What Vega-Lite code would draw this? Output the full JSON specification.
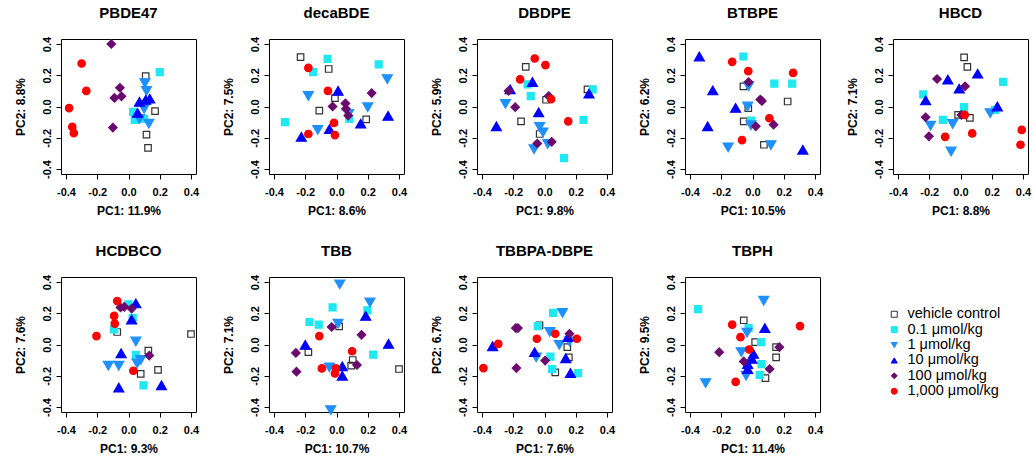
{
"$schema": "https://vega.github.io/schema/vega-lite/v6.json",
"background": "white",
"padding": {"left": 13, "top": 5, "right": 5, "bottom": 3},
"datasets": {"pts": [
{"p":"PBDE47","g":"vehicle control","x":0.11,"y":0.195},{"p":"PBDE47","g":"vehicle control","x":0.17,"y":-0.03},{"p":"PBDE47","g":"vehicle control","x":0.115,"y":-0.18},{"p":"PBDE47","g":"vehicle control","x":0.125,"y":-0.265},
{"p":"PBDE47","g":"0.1 μmol/kg","x":0.20,"y":0.22},{"p":"PBDE47","g":"0.1 μmol/kg","x":0.03,"y":-0.035},{"p":"PBDE47","g":"0.1 μmol/kg","x":0.04,"y":-0.085},{"p":"PBDE47","g":"0.1 μmol/kg","x":0.10,"y":-0.08},
{"p":"PBDE47","g":"1 μmol/kg","x":0.105,"y":0.15},{"p":"PBDE47","g":"1 μmol/kg","x":0.115,"y":0.10},{"p":"PBDE47","g":"1 μmol/kg","x":0.10,"y":-0.015},{"p":"PBDE47","g":"1 μmol/kg","x":0.07,"y":-0.08},{"p":"PBDE47","g":"1 μmol/kg","x":0.13,"y":-0.11},
{"p":"PBDE47","g":"10 μmol/kg","x":0.07,"y":0.03},{"p":"PBDE47","g":"10 μmol/kg","x":0.11,"y":0.043},{"p":"PBDE47","g":"10 μmol/kg","x":0.136,"y":0.05},{"p":"PBDE47","g":"10 μmol/kg","x":0.058,"y":-0.041},
{"p":"PBDE47","g":"100 μmol/kg","x":-0.11,"y":0.40},{"p":"PBDE47","g":"100 μmol/kg","x":-0.055,"y":0.12},{"p":"PBDE47","g":"100 μmol/kg","x":-0.09,"y":0.055},{"p":"PBDE47","g":"100 μmol/kg","x":-0.045,"y":0.065},{"p":"PBDE47","g":"100 μmol/kg","x":-0.10,"y":-0.135},
{"p":"PBDE47","g":"1,000 μmol/kg","x":-0.30,"y":0.275},{"p":"PBDE47","g":"1,000 μmol/kg","x":-0.27,"y":0.10},{"p":"PBDE47","g":"1,000 μmol/kg","x":-0.38,"y":-0.01},{"p":"PBDE47","g":"1,000 μmol/kg","x":-0.36,"y":-0.13},{"p":"PBDE47","g":"1,000 μmol/kg","x":-0.35,"y":-0.17},

{"p":"decaBDE","g":"vehicle control","x":-0.23,"y":0.316},{"p":"decaBDE","g":"vehicle control","x":-0.05,"y":0.24},{"p":"decaBDE","g":"vehicle control","x":-0.01,"y":0.054},{"p":"decaBDE","g":"vehicle control","x":-0.11,"y":-0.026},{"p":"decaBDE","g":"vehicle control","x":0.19,"y":-0.082},
{"p":"decaBDE","g":"0.1 μmol/kg","x":-0.057,"y":0.305},{"p":"decaBDE","g":"0.1 μmol/kg","x":-0.15,"y":0.22},{"p":"decaBDE","g":"0.1 μmol/kg","x":0.27,"y":0.27},{"p":"decaBDE","g":"0.1 μmol/kg","x":-0.33,"y":-0.10},{"p":"decaBDE","g":"0.1 μmol/kg","x":0.082,"y":-0.08},
{"p":"decaBDE","g":"1 μmol/kg","x":0.325,"y":0.175},{"p":"decaBDE","g":"1 μmol/kg","x":-0.18,"y":0.067},{"p":"decaBDE","g":"1 μmol/kg","x":0.20,"y":-0.005},{"p":"decaBDE","g":"1 μmol/kg","x":0.078,"y":-0.047},{"p":"decaBDE","g":"1 μmol/kg","x":-0.12,"y":-0.15},
{"p":"decaBDE","g":"10 μmol/kg","x":0.01,"y":0.10},{"p":"decaBDE","g":"10 μmol/kg","x":0.33,"y":-0.06},{"p":"decaBDE","g":"10 μmol/kg","x":0.155,"y":-0.11},{"p":"decaBDE","g":"10 μmol/kg","x":-0.045,"y":-0.145},{"p":"decaBDE","g":"10 μmol/kg","x":-0.225,"y":-0.194},
{"p":"decaBDE","g":"100 μmol/kg","x":0.225,"y":0.086},{"p":"decaBDE","g":"100 μmol/kg","x":0.057,"y":0.02},{"p":"decaBDE","g":"100 μmol/kg","x":-0.025,"y":0.0},{"p":"decaBDE","g":"100 μmol/kg","x":0.06,"y":-0.015},{"p":"decaBDE","g":"100 μmol/kg","x":0.075,"y":-0.058},
{"p":"decaBDE","g":"1,000 μmol/kg","x":-0.18,"y":0.247},{"p":"decaBDE","g":"1,000 μmol/kg","x":-0.055,"y":0.10},{"p":"decaBDE","g":"1,000 μmol/kg","x":-0.016,"y":-0.105},{"p":"decaBDE","g":"1,000 μmol/kg","x":-0.18,"y":-0.176},{"p":"decaBDE","g":"1,000 μmol/kg","x":-0.01,"y":-0.183},

{"p":"DBDPE","g":"vehicle control","x":-0.12,"y":0.254},{"p":"DBDPE","g":"vehicle control","x":0.01,"y":0.043},{"p":"DBDPE","g":"vehicle control","x":0.275,"y":0.11},{"p":"DBDPE","g":"vehicle control","x":-0.15,"y":-0.095},{"p":"DBDPE","g":"vehicle control","x":-0.031,"y":-0.176},
{"p":"DBDPE","g":"0.1 μmol/kg","x":-0.108,"y":0.142},{"p":"DBDPE","g":"0.1 μmol/kg","x":-0.088,"y":0.067},{"p":"DBDPE","g":"0.1 μmol/kg","x":0.308,"y":0.11},{"p":"DBDPE","g":"0.1 μmol/kg","x":0.25,"y":-0.086},{"p":"DBDPE","g":"0.1 μmol/kg","x":0.125,"y":-0.33},
{"p":"DBDPE","g":"1 μmol/kg","x":-0.25,"y":0.017},{"p":"DBDPE","g":"1 μmol/kg","x":-0.031,"y":-0.13},{"p":"DBDPE","g":"1 μmol/kg","x":-0.01,"y":-0.166},{"p":"DBDPE","g":"1 μmol/kg","x":0.021,"y":-0.24},{"p":"DBDPE","g":"1 μmol/kg","x":-0.067,"y":-0.273},
{"p":"DBDPE","g":"10 μmol/kg","x":-0.077,"y":0.157},{"p":"DBDPE","g":"10 μmol/kg","x":-0.22,"y":0.11},{"p":"DBDPE","g":"10 μmol/kg","x":0.285,"y":0.082},{"p":"DBDPE","g":"10 μmol/kg","x":-0.0375,"y":-0.037},{"p":"DBDPE","g":"10 μmol/kg","x":-0.308,"y":-0.127},
{"p":"DBDPE","g":"100 μmol/kg","x":-0.23,"y":0.10},{"p":"DBDPE","g":"100 μmol/kg","x":0.027,"y":0.067},{"p":"DBDPE","g":"100 μmol/kg","x":-0.1875,"y":-0.004},{"p":"DBDPE","g":"100 μmol/kg","x":-0.046,"y":-0.237},{"p":"DBDPE","g":"100 μmol/kg","x":0.046,"y":-0.226},
{"p":"DBDPE","g":"1,000 μmol/kg","x":-0.0625,"y":0.307},{"p":"DBDPE","g":"1,000 μmol/kg","x":0.006,"y":0.265},{"p":"DBDPE","g":"1,000 μmol/kg","x":-0.156,"y":0.174},{"p":"DBDPE","g":"1,000 μmol/kg","x":0.042,"y":0.047},{"p":"DBDPE","g":"1,000 μmol/kg","x":0.152,"y":-0.095},

{"p":"BTBPE","g":"vehicle control","x":-0.058,"y":0.129},{"p":"BTBPE","g":"vehicle control","x":0.225,"y":0.032},{"p":"BTBPE","g":"vehicle control","x":-0.027,"y":-0.011},{"p":"BTBPE","g":"vehicle control","x":-0.056,"y":-0.095},{"p":"BTBPE","g":"vehicle control","x":0.073,"y":-0.245},
{"p":"BTBPE","g":"0.1 μmol/kg","x":-0.058,"y":0.32},{"p":"BTBPE","g":"0.1 μmol/kg","x":0.14,"y":0.146},{"p":"BTBPE","g":"0.1 μmol/kg","x":0.254,"y":0.146},{"p":"BTBPE","g":"0.1 μmol/kg","x":-0.01,"y":-0.09},
{"p":"BTBPE","g":"1 μmol/kg","x":-0.025,"y":0.129},{"p":"BTBPE","g":"1 μmol/kg","x":-0.031,"y":0.0},{"p":"BTBPE","g":"1 μmol/kg","x":-0.01,"y":-0.12},{"p":"BTBPE","g":"1 μmol/kg","x":0.118,"y":-0.247},{"p":"BTBPE","g":"1 μmol/kg","x":-0.156,"y":-0.262},
{"p":"BTBPE","g":"10 μmol/kg","x":-0.34,"y":0.32},{"p":"BTBPE","g":"10 μmol/kg","x":-0.254,"y":0.103},{"p":"BTBPE","g":"10 μmol/kg","x":-0.108,"y":-0.009},{"p":"BTBPE","g":"10 μmol/kg","x":-0.287,"y":-0.127},{"p":"BTBPE","g":"10 μmol/kg","x":0.322,"y":-0.277},
{"p":"BTBPE","g":"100 μmol/kg","x":-0.025,"y":0.157},{"p":"BTBPE","g":"100 μmol/kg","x":0.05,"y":0.045},{"p":"BTBPE","g":"100 μmol/kg","x":0.06,"y":0.035},{"p":"BTBPE","g":"100 μmol/kg","x":0.021,"y":-0.127},{"p":"BTBPE","g":"100 μmol/kg","x":0.135,"y":-0.116},
{"p":"BTBPE","g":"1,000 μmol/kg","x":-0.13,"y":0.286},{"p":"BTBPE","g":"1,000 μmol/kg","x":-0.027,"y":0.226},{"p":"BTBPE","g":"1,000 μmol/kg","x":0.26,"y":0.215},{"p":"BTBPE","g":"1,000 μmol/kg","x":0.108,"y":-0.075},{"p":"BTBPE","g":"1,000 μmol/kg","x":-0.067,"y":-0.215},

{"p":"HBCD","g":"vehicle control","x":0.023,"y":0.314},{"p":"HBCD","g":"vehicle control","x":0.044,"y":0.254},{"p":"HBCD","g":"vehicle control","x":-0.015,"y":-0.054},{"p":"HBCD","g":"vehicle control","x":0.06,"y":-0.073},
{"p":"HBCD","g":"0.1 μmol/kg","x":0.273,"y":0.157},{"p":"HBCD","g":"0.1 μmol/kg","x":-0.238,"y":0.077},{"p":"HBCD","g":"0.1 μmol/kg","x":0.023,"y":-0.004},{"p":"HBCD","g":"0.1 μmol/kg","x":0.22,"y":-0.022},{"p":"HBCD","g":"0.1 μmol/kg","x":-0.113,"y":-0.086},
{"p":"HBCD","g":"1 μmol/kg","x":0.19,"y":-0.043},{"p":"HBCD","g":"1 μmol/kg","x":-0.05,"y":-0.112},{"p":"HBCD","g":"1 μmol/kg","x":-0.192,"y":-0.123},{"p":"HBCD","g":"1 μmol/kg","x":-0.06,"y":-0.288},
{"p":"HBCD","g":"10 μmol/kg","x":0.11,"y":0.21},{"p":"HBCD","g":"10 μmol/kg","x":-0.081,"y":0.172},{"p":"HBCD","g":"10 μmol/kg","x":-0.008,"y":0.114},{"p":"HBCD","g":"10 μmol/kg","x":-0.223,"y":0.039},{"p":"HBCD","g":"10 μmol/kg","x":0.236,"y":0.0},
{"p":"HBCD","g":"100 μmol/kg","x":-0.15,"y":0.176},{"p":"HBCD","g":"100 μmol/kg","x":0.029,"y":0.129},{"p":"HBCD","g":"100 μmol/kg","x":0.006,"y":-0.054},{"p":"HBCD","g":"100 μmol/kg","x":-0.223,"y":-0.069},{"p":"HBCD","g":"100 μmol/kg","x":-0.202,"y":-0.191},
{"p":"HBCD","g":"1,000 μmol/kg","x":0.027,"y":-0.054},{"p":"HBCD","g":"1,000 μmol/kg","x":0.392,"y":-0.15},{"p":"HBCD","g":"1,000 μmol/kg","x":0.075,"y":-0.172},{"p":"HBCD","g":"1,000 μmol/kg","x":-0.098,"y":-0.194},{"p":"HBCD","g":"1,000 μmol/kg","x":0.384,"y":-0.245},

{"p":"HCDBCO","g":"vehicle control","x":-0.072,"y":0.08},{"p":"HCDBCO","g":"vehicle control","x":0.40,"y":0.067},{"p":"HCDBCO","g":"vehicle control","x":0.127,"y":-0.039},{"p":"HCDBCO","g":"vehicle control","x":0.078,"y":-0.188},{"p":"HCDBCO","g":"vehicle control","x":0.189,"y":-0.162},
{"p":"HCDBCO","g":"0.1 μmol/kg","x":0.0,"y":0.257},{"p":"HCDBCO","g":"0.1 μmol/kg","x":0.027,"y":0.17},{"p":"HCDBCO","g":"0.1 μmol/kg","x":-0.092,"y":0.097},{"p":"HCDBCO","g":"0.1 μmol/kg","x":0.047,"y":-0.067},{"p":"HCDBCO","g":"0.1 μmol/kg","x":0.096,"y":-0.261},
{"p":"HCDBCO","g":"1 μmol/kg","x":0.047,"y":0.019},{"p":"HCDBCO","g":"1 μmol/kg","x":0.078,"y":-0.099},{"p":"HCDBCO","g":"1 μmol/kg","x":0.055,"y":-0.121},{"p":"HCDBCO","g":"1 μmol/kg","x":-0.129,"y":-0.136},{"p":"HCDBCO","g":"1 μmol/kg","x":-0.062,"y":-0.136},
{"p":"HCDBCO","g":"10 μmol/kg","x":0.047,"y":0.263},{"p":"HCDBCO","g":"10 μmol/kg","x":0.02,"y":0.16},{"p":"HCDBCO","g":"10 μmol/kg","x":-0.047,"y":-0.056},{"p":"HCDBCO","g":"10 μmol/kg","x":-0.062,"y":-0.276},{"p":"HCDBCO","g":"10 μmol/kg","x":0.211,"y":-0.261},
{"p":"HCDBCO","g":"100 μmol/kg","x":-0.051,"y":0.237},{"p":"HCDBCO","g":"100 μmol/kg","x":-0.027,"y":0.241},{"p":"HCDBCO","g":"100 μmol/kg","x":0.02,"y":0.23},{"p":"HCDBCO","g":"100 μmol/kg","x":0.133,"y":-0.071},
{"p":"HCDBCO","g":"1,000 μmol/kg","x":-0.072,"y":0.278},{"p":"HCDBCO","g":"1,000 μmol/kg","x":-0.092,"y":0.183},{"p":"HCDBCO","g":"1,000 μmol/kg","x":-0.088,"y":0.134},{"p":"HCDBCO","g":"1,000 μmol/kg","x":-0.205,"y":0.054},{"p":"HCDBCO","g":"1,000 μmol/kg","x":0.031,"y":-0.168},

{"p":"TBB","g":"vehicle control","x":0.017,"y":0.116},{"p":"TBB","g":"vehicle control","x":-0.18,"y":-0.049},{"p":"TBB","g":"vehicle control","x":0.104,"y":-0.099},{"p":"TBB","g":"vehicle control","x":0.094,"y":-0.135},{"p":"TBB","g":"vehicle control","x":0.40,"y":-0.157},
{"p":"TBB","g":"0.1 μmol/kg","x":-0.025,"y":0.237},{"p":"TBB","g":"0.1 μmol/kg","x":0.198,"y":0.219},{"p":"TBB","g":"0.1 μmol/kg","x":-0.173,"y":0.144},{"p":"TBB","g":"0.1 μmol/kg","x":-0.114,"y":0.127},{"p":"TBB","g":"0.1 μmol/kg","x":0.235,"y":-0.065},
{"p":"TBB","g":"1 μmol/kg","x":0.021,"y":0.385},{"p":"TBB","g":"1 μmol/kg","x":0.214,"y":0.269},{"p":"TBB","g":"1 μmol/kg","x":0.01,"y":0.133},{"p":"TBB","g":"1 μmol/kg","x":-0.046,"y":-0.146},{"p":"TBB","g":"1 μmol/kg","x":-0.037,"y":-0.42},
{"p":"TBB","g":"10 μmol/kg","x":0.187,"y":0.183},{"p":"TBB","g":"10 μmol/kg","x":-0.2,"y":-0.002},{"p":"TBB","g":"10 μmol/kg","x":0.333,"y":0.004},{"p":"TBB","g":"10 μmol/kg","x":0.037,"y":-0.14},{"p":"TBB","g":"10 μmol/kg","x":0.037,"y":-0.2},
{"p":"TBB","g":"100 μmol/kg","x":-0.031,"y":0.112},{"p":"TBB","g":"100 μmol/kg","x":0.16,"y":0.062},{"p":"TBB","g":"100 μmol/kg","x":-0.26,"y":-0.054},{"p":"TBB","g":"100 μmol/kg","x":0.131,"y":-0.131},{"p":"TBB","g":"100 μmol/kg","x":-0.256,"y":-0.174},
{"p":"TBB","g":"1,000 μmol/kg","x":-0.11,"y":0.054},{"p":"TBB","g":"1,000 μmol/kg","x":0.10,"y":-0.043},{"p":"TBB","g":"1,000 μmol/kg","x":-0.094,"y":-0.153},{"p":"TBB","g":"1,000 μmol/kg","x":-0.004,"y":-0.153},{"p":"TBB","g":"1,000 μmol/kg","x":-0.01,"y":-0.185},

{"p":"TBBPA-DBPE","g":"vehicle control","x":-0.032,"y":0.123},{"p":"TBBPA-DBPE","g":"vehicle control","x":0.146,"y":-0.017},{"p":"TBBPA-DBPE","g":"vehicle control","x":0.156,"y":-0.082},{"p":"TBBPA-DBPE","g":"vehicle control","x":0.069,"y":-0.178},
{"p":"TBBPA-DBPE","g":"0.1 μmol/kg","x":0.055,"y":0.202},{"p":"TBBPA-DBPE","g":"0.1 μmol/kg","x":-0.043,"y":0.118},{"p":"TBBPA-DBPE","g":"0.1 μmol/kg","x":0.038,"y":-0.077},{"p":"TBBPA-DBPE","g":"0.1 μmol/kg","x":0.049,"y":-0.157},{"p":"TBBPA-DBPE","g":"0.1 μmol/kg","x":0.215,"y":-0.183},
{"p":"TBBPA-DBPE","g":"1 μmol/kg","x":0.115,"y":0.202},{"p":"TBBPA-DBPE","g":"1 μmol/kg","x":0.034,"y":0.08},{"p":"TBBPA-DBPE","g":"1 μmol/kg","x":0.16,"y":0.019},{"p":"TBBPA-DBPE","g":"1 μmol/kg","x":0.095,"y":-0.002},{"p":"TBBPA-DBPE","g":"1 μmol/kg","x":-0.053,"y":-0.082},
{"p":"TBBPA-DBPE","g":"10 μmol/kg","x":0.15,"y":0.047},{"p":"TBBPA-DBPE","g":"10 μmol/kg","x":-0.332,"y":-0.011},{"p":"TBBPA-DBPE","g":"10 μmol/kg","x":-0.063,"y":-0.049},{"p":"TBBPA-DBPE","g":"10 μmol/kg","x":0.136,"y":-0.088},{"p":"TBBPA-DBPE","g":"10 μmol/kg","x":0.166,"y":-0.183},
{"p":"TBBPA-DBPE","g":"100 μmol/kg","x":-0.184,"y":0.105},{"p":"TBBPA-DBPE","g":"100 μmol/kg","x":-0.17,"y":0.105},{"p":"TBBPA-DBPE","g":"100 μmol/kg","x":0.16,"y":0.069},{"p":"TBBPA-DBPE","g":"100 μmol/kg","x":0.004,"y":-0.103},{"p":"TBBPA-DBPE","g":"100 μmol/kg","x":-0.18,"y":-0.151},
{"p":"TBBPA-DBPE","g":"1,000 μmol/kg","x":0.069,"y":0.069},{"p":"TBBPA-DBPE","g":"1,000 μmol/kg","x":-0.049,"y":0.037},{"p":"TBBPA-DBPE","g":"1,000 μmol/kg","x":0.207,"y":0.037},{"p":"TBBPA-DBPE","g":"1,000 μmol/kg","x":-0.296,"y":0.004},{"p":"TBBPA-DBPE","g":"1,000 μmol/kg","x":-0.391,"y":-0.151},

{"p":"TBPH","g":"vehicle control","x":-0.056,"y":0.155},{"p":"TBPH","g":"vehicle control","x":0.017,"y":0.015},{"p":"TBPH","g":"vehicle control","x":0.151,"y":-0.017},{"p":"TBPH","g":"vehicle control","x":0.151,"y":-0.082},{"p":"TBPH","g":"vehicle control","x":0.083,"y":-0.215},
{"p":"TBPH","g":"0.1 μmol/kg","x":-0.348,"y":0.226},{"p":"TBPH","g":"0.1 μmol/kg","x":-0.025,"y":0.105},{"p":"TBPH","g":"0.1 μmol/kg","x":0.056,"y":0.015},{"p":"TBPH","g":"0.1 μmol/kg","x":0.058,"y":-0.125},{"p":"TBPH","g":"0.1 μmol/kg","x":0.046,"y":-0.194},
{"p":"TBPH","g":"1 μmol/kg","x":0.072,"y":0.28},{"p":"TBPH","g":"1 μmol/kg","x":-0.035,"y":0.075},{"p":"TBPH","g":"1 μmol/kg","x":-0.072,"y":-0.049},{"p":"TBPH","g":"1 μmol/kg","x":-0.041,"y":-0.2},{"p":"TBPH","g":"1 μmol/kg","x":-0.3,"y":-0.247},
{"p":"TBPH","g":"10 μmol/kg","x":0.079,"y":0.105},{"p":"TBPH","g":"10 μmol/kg","x":0.006,"y":-0.06},{"p":"TBPH","g":"10 μmol/kg","x":-0.004,"y":-0.092},{"p":"TBPH","g":"10 μmol/kg","x":-0.031,"y":-0.125},{"p":"TBPH","g":"10 μmol/kg","x":-0.031,"y":-0.157},
{"p":"TBPH","g":"100 μmol/kg","x":0.172,"y":-0.017},{"p":"TBPH","g":"100 μmol/kg","x":-0.213,"y":-0.049},{"p":"TBPH","g":"100 μmol/kg","x":-0.056,"y":-0.108},{"p":"TBPH","g":"100 μmol/kg","x":0.11,"y":-0.157},
{"p":"TBPH","g":"1,000 μmol/kg","x":-0.13,"y":0.127},{"p":"TBPH","g":"1,000 μmol/kg","x":0.304,"y":0.118},{"p":"TBPH","g":"1,000 μmol/kg","x":-0.077,"y":0.047},{"p":"TBPH","g":"1,000 μmol/kg","x":-0.021,"y":-0.032},{"p":"TBPH","g":"1,000 μmol/kg","x":-0.108,"y":-0.239}
]},
"data": {"name": "pts"},
"columns": 5,
"spacing": {"row": 103, "column": 73},
"bounds": "flush",
"concat": [
{"title":"PBDE47","width":135,"height":135,"transform":[{"filter":"datum.p === 'PBDE47'"}],"mark":{"type":"point","filled":true,"opacity":1,"strokeWidth":1.2},
"encoding":{"x":{"field":"x","type":"quantitative","scale":{"domain":[-0.432,0.432],"nice":false,"zero":false},"axis":{"title":"PC1: 11.9%","values":[-0.4,-0.2,0,0.2,0.4],"labelExpr":"datum.value < 0 ? '-' + format(-datum.value, '.1f') : format(datum.value, '.1f')"}},
"y":{"field":"y","type":"quantitative","scale":{"domain":[-0.432,0.432],"nice":false,"zero":false},"axis":{"title":"PC2: 8.8%","values":[-0.4,-0.2,0,0.2,0.4],"labelExpr":"datum.value < 0 ? '-' + format(-datum.value, '.1f') : format(datum.value, '.1f')"}},
"shape":{"field":"g","type":"nominal","scale":{"domain":["vehicle control","0.1 μmol/kg","1 μmol/kg","10 μmol/kg","100 μmol/kg","1,000 μmol/kg"],"range":["square","square","triangle-down","triangle-up","diamond","circle"]},"legend":{"title":null,"orient":"none","legendX":826,"legendY":268}},
"fill":{"field":"g","type":"nominal","scale":{"domain":["vehicle control","0.1 μmol/kg","1 μmol/kg","10 μmol/kg","100 μmol/kg","1,000 μmol/kg"],"range":["transparent","#1EE8F0","#1E90FF","#0000FF","#6A0A6E","#FF0000"]},"legend":{"title":null,"orient":"none","legendX":826,"legendY":268}},
"stroke":{"field":"g","type":"nominal","scale":{"domain":["vehicle control","0.1 μmol/kg","1 μmol/kg","10 μmol/kg","100 μmol/kg","1,000 μmol/kg"],"range":["#333333","#1EE8F0","#1E90FF","#0000FF","#6A0A6E","#FF0000"]},"legend":{"title":null,"orient":"none","legendX":826,"legendY":268}},
"size":{"field":"g","type":"nominal","scale":{"type":"ordinal","domain":["1 μmol/kg","10 μmol/kg","100 μmol/kg","1,000 μmol/kg","vehicle control","0.1 μmol/kg"],"range":[100,100,72,56,42,49]},"legend":null}}},
{"title":"decaBDE","width":135,"height":135,"transform":[{"filter":"datum.p === 'decaBDE'"}],"mark":{"type":"point","filled":true,"opacity":1,"strokeWidth":1.2},
"encoding":{"x":{"field":"x","type":"quantitative","scale":{"domain":[-0.432,0.432],"nice":false,"zero":false},"axis":{"title":"PC1: 8.6%","values":[-0.4,-0.2,0,0.2,0.4],"labelExpr":"datum.value < 0 ? '-' + format(-datum.value, '.1f') : format(datum.value, '.1f')"}},
"y":{"field":"y","type":"quantitative","scale":{"domain":[-0.432,0.432],"nice":false,"zero":false},"axis":{"title":"PC2: 7.5%","values":[-0.4,-0.2,0,0.2,0.4],"labelExpr":"datum.value < 0 ? '-' + format(-datum.value, '.1f') : format(datum.value, '.1f')"}},
"shape":{"field":"g","type":"nominal","scale":{"domain":["vehicle control","0.1 μmol/kg","1 μmol/kg","10 μmol/kg","100 μmol/kg","1,000 μmol/kg"],"range":["square","square","triangle-down","triangle-up","diamond","circle"]},"legend":{"title":null,"orient":"none","legendX":826,"legendY":268}},
"fill":{"field":"g","type":"nominal","scale":{"domain":["vehicle control","0.1 μmol/kg","1 μmol/kg","10 μmol/kg","100 μmol/kg","1,000 μmol/kg"],"range":["transparent","#1EE8F0","#1E90FF","#0000FF","#6A0A6E","#FF0000"]},"legend":{"title":null,"orient":"none","legendX":826,"legendY":268}},
"stroke":{"field":"g","type":"nominal","scale":{"domain":["vehicle control","0.1 μmol/kg","1 μmol/kg","10 μmol/kg","100 μmol/kg","1,000 μmol/kg"],"range":["#333333","#1EE8F0","#1E90FF","#0000FF","#6A0A6E","#FF0000"]},"legend":{"title":null,"orient":"none","legendX":826,"legendY":268}},
"size":{"field":"g","type":"nominal","scale":{"type":"ordinal","domain":["1 μmol/kg","10 μmol/kg","100 μmol/kg","1,000 μmol/kg","vehicle control","0.1 μmol/kg"],"range":[100,100,72,56,42,49]},"legend":null}}},
{"title":"DBDPE","width":135,"height":135,"transform":[{"filter":"datum.p === 'DBDPE'"}],"mark":{"type":"point","filled":true,"opacity":1,"strokeWidth":1.2},
"encoding":{"x":{"field":"x","type":"quantitative","scale":{"domain":[-0.432,0.432],"nice":false,"zero":false},"axis":{"title":"PC1: 9.8%","values":[-0.4,-0.2,0,0.2,0.4],"labelExpr":"datum.value < 0 ? '-' + format(-datum.value, '.1f') : format(datum.value, '.1f')"}},
"y":{"field":"y","type":"quantitative","scale":{"domain":[-0.432,0.432],"nice":false,"zero":false},"axis":{"title":"PC2: 5.9%","values":[-0.4,-0.2,0,0.2,0.4],"labelExpr":"datum.value < 0 ? '-' + format(-datum.value, '.1f') : format(datum.value, '.1f')"}},
"shape":{"field":"g","type":"nominal","scale":{"domain":["vehicle control","0.1 μmol/kg","1 μmol/kg","10 μmol/kg","100 μmol/kg","1,000 μmol/kg"],"range":["square","square","triangle-down","triangle-up","diamond","circle"]},"legend":{"title":null,"orient":"none","legendX":826,"legendY":268}},
"fill":{"field":"g","type":"nominal","scale":{"domain":["vehicle control","0.1 μmol/kg","1 μmol/kg","10 μmol/kg","100 μmol/kg","1,000 μmol/kg"],"range":["transparent","#1EE8F0","#1E90FF","#0000FF","#6A0A6E","#FF0000"]},"legend":{"title":null,"orient":"none","legendX":826,"legendY":268}},
"stroke":{"field":"g","type":"nominal","scale":{"domain":["vehicle control","0.1 μmol/kg","1 μmol/kg","10 μmol/kg","100 μmol/kg","1,000 μmol/kg"],"range":["#333333","#1EE8F0","#1E90FF","#0000FF","#6A0A6E","#FF0000"]},"legend":{"title":null,"orient":"none","legendX":826,"legendY":268}},
"size":{"field":"g","type":"nominal","scale":{"type":"ordinal","domain":["1 μmol/kg","10 μmol/kg","100 μmol/kg","1,000 μmol/kg","vehicle control","0.1 μmol/kg"],"range":[100,100,72,56,42,49]},"legend":null}}},
{"title":"BTBPE","width":135,"height":135,"transform":[{"filter":"datum.p === 'BTBPE'"}],"mark":{"type":"point","filled":true,"opacity":1,"strokeWidth":1.2},
"encoding":{"x":{"field":"x","type":"quantitative","scale":{"domain":[-0.432,0.432],"nice":false,"zero":false},"axis":{"title":"PC1: 10.5%","values":[-0.4,-0.2,0,0.2,0.4],"labelExpr":"datum.value < 0 ? '-' + format(-datum.value, '.1f') : format(datum.value, '.1f')"}},
"y":{"field":"y","type":"quantitative","scale":{"domain":[-0.432,0.432],"nice":false,"zero":false},"axis":{"title":"PC2: 6.2%","values":[-0.4,-0.2,0,0.2,0.4],"labelExpr":"datum.value < 0 ? '-' + format(-datum.value, '.1f') : format(datum.value, '.1f')"}},
"shape":{"field":"g","type":"nominal","scale":{"domain":["vehicle control","0.1 μmol/kg","1 μmol/kg","10 μmol/kg","100 μmol/kg","1,000 μmol/kg"],"range":["square","square","triangle-down","triangle-up","diamond","circle"]},"legend":{"title":null,"orient":"none","legendX":826,"legendY":268}},
"fill":{"field":"g","type":"nominal","scale":{"domain":["vehicle control","0.1 μmol/kg","1 μmol/kg","10 μmol/kg","100 μmol/kg","1,000 μmol/kg"],"range":["transparent","#1EE8F0","#1E90FF","#0000FF","#6A0A6E","#FF0000"]},"legend":{"title":null,"orient":"none","legendX":826,"legendY":268}},
"stroke":{"field":"g","type":"nominal","scale":{"domain":["vehicle control","0.1 μmol/kg","1 μmol/kg","10 μmol/kg","100 μmol/kg","1,000 μmol/kg"],"range":["#333333","#1EE8F0","#1E90FF","#0000FF","#6A0A6E","#FF0000"]},"legend":{"title":null,"orient":"none","legendX":826,"legendY":268}},
"size":{"field":"g","type":"nominal","scale":{"type":"ordinal","domain":["1 μmol/kg","10 μmol/kg","100 μmol/kg","1,000 μmol/kg","vehicle control","0.1 μmol/kg"],"range":[100,100,72,56,42,49]},"legend":null}}},
{"title":"HBCD","width":135,"height":135,"transform":[{"filter":"datum.p === 'HBCD'"}],"mark":{"type":"point","filled":true,"opacity":1,"strokeWidth":1.2},
"encoding":{"x":{"field":"x","type":"quantitative","scale":{"domain":[-0.432,0.432],"nice":false,"zero":false},"axis":{"title":"PC1: 8.8%","values":[-0.4,-0.2,0,0.2,0.4],"labelExpr":"datum.value < 0 ? '-' + format(-datum.value, '.1f') : format(datum.value, '.1f')"}},
"y":{"field":"y","type":"quantitative","scale":{"domain":[-0.432,0.432],"nice":false,"zero":false},"axis":{"title":"PC2: 7.1%","values":[-0.4,-0.2,0,0.2,0.4],"labelExpr":"datum.value < 0 ? '-' + format(-datum.value, '.1f') : format(datum.value, '.1f')"}},
"shape":{"field":"g","type":"nominal","scale":{"domain":["vehicle control","0.1 μmol/kg","1 μmol/kg","10 μmol/kg","100 μmol/kg","1,000 μmol/kg"],"range":["square","square","triangle-down","triangle-up","diamond","circle"]},"legend":{"title":null,"orient":"none","legendX":826,"legendY":268}},
"fill":{"field":"g","type":"nominal","scale":{"domain":["vehicle control","0.1 μmol/kg","1 μmol/kg","10 μmol/kg","100 μmol/kg","1,000 μmol/kg"],"range":["transparent","#1EE8F0","#1E90FF","#0000FF","#6A0A6E","#FF0000"]},"legend":{"title":null,"orient":"none","legendX":826,"legendY":268}},
"stroke":{"field":"g","type":"nominal","scale":{"domain":["vehicle control","0.1 μmol/kg","1 μmol/kg","10 μmol/kg","100 μmol/kg","1,000 μmol/kg"],"range":["#333333","#1EE8F0","#1E90FF","#0000FF","#6A0A6E","#FF0000"]},"legend":{"title":null,"orient":"none","legendX":826,"legendY":268}},
"size":{"field":"g","type":"nominal","scale":{"type":"ordinal","domain":["1 μmol/kg","10 μmol/kg","100 μmol/kg","1,000 μmol/kg","vehicle control","0.1 μmol/kg"],"range":[100,100,72,56,42,49]},"legend":null}}},
{"title":"HCDBCO","width":135,"height":135,"transform":[{"filter":"datum.p === 'HCDBCO'"}],"mark":{"type":"point","filled":true,"opacity":1,"strokeWidth":1.2},
"encoding":{"x":{"field":"x","type":"quantitative","scale":{"domain":[-0.432,0.432],"nice":false,"zero":false},"axis":{"title":"PC1: 9.3%","values":[-0.4,-0.2,0,0.2,0.4],"labelExpr":"datum.value < 0 ? '-' + format(-datum.value, '.1f') : format(datum.value, '.1f')"}},
"y":{"field":"y","type":"quantitative","scale":{"domain":[-0.432,0.432],"nice":false,"zero":false},"axis":{"title":"PC2: 7.6%","values":[-0.4,-0.2,0,0.2,0.4],"labelExpr":"datum.value < 0 ? '-' + format(-datum.value, '.1f') : format(datum.value, '.1f')"}},
"shape":{"field":"g","type":"nominal","scale":{"domain":["vehicle control","0.1 μmol/kg","1 μmol/kg","10 μmol/kg","100 μmol/kg","1,000 μmol/kg"],"range":["square","square","triangle-down","triangle-up","diamond","circle"]},"legend":{"title":null,"orient":"none","legendX":826,"legendY":268}},
"fill":{"field":"g","type":"nominal","scale":{"domain":["vehicle control","0.1 μmol/kg","1 μmol/kg","10 μmol/kg","100 μmol/kg","1,000 μmol/kg"],"range":["transparent","#1EE8F0","#1E90FF","#0000FF","#6A0A6E","#FF0000"]},"legend":{"title":null,"orient":"none","legendX":826,"legendY":268}},
"stroke":{"field":"g","type":"nominal","scale":{"domain":["vehicle control","0.1 μmol/kg","1 μmol/kg","10 μmol/kg","100 μmol/kg","1,000 μmol/kg"],"range":["#333333","#1EE8F0","#1E90FF","#0000FF","#6A0A6E","#FF0000"]},"legend":{"title":null,"orient":"none","legendX":826,"legendY":268}},
"size":{"field":"g","type":"nominal","scale":{"type":"ordinal","domain":["1 μmol/kg","10 μmol/kg","100 μmol/kg","1,000 μmol/kg","vehicle control","0.1 μmol/kg"],"range":[100,100,72,56,42,49]},"legend":null}}},
{"title":"TBB","width":135,"height":135,"transform":[{"filter":"datum.p === 'TBB'"}],"mark":{"type":"point","filled":true,"opacity":1,"strokeWidth":1.2},
"encoding":{"x":{"field":"x","type":"quantitative","scale":{"domain":[-0.432,0.432],"nice":false,"zero":false},"axis":{"title":"PC1: 10.7%","values":[-0.4,-0.2,0,0.2,0.4],"labelExpr":"datum.value < 0 ? '-' + format(-datum.value, '.1f') : format(datum.value, '.1f')"}},
"y":{"field":"y","type":"quantitative","scale":{"domain":[-0.432,0.432],"nice":false,"zero":false},"axis":{"title":"PC2: 7.1%","values":[-0.4,-0.2,0,0.2,0.4],"labelExpr":"datum.value < 0 ? '-' + format(-datum.value, '.1f') : format(datum.value, '.1f')"}},
"shape":{"field":"g","type":"nominal","scale":{"domain":["vehicle control","0.1 μmol/kg","1 μmol/kg","10 μmol/kg","100 μmol/kg","1,000 μmol/kg"],"range":["square","square","triangle-down","triangle-up","diamond","circle"]},"legend":{"title":null,"orient":"none","legendX":826,"legendY":268}},
"fill":{"field":"g","type":"nominal","scale":{"domain":["vehicle control","0.1 μmol/kg","1 μmol/kg","10 μmol/kg","100 μmol/kg","1,000 μmol/kg"],"range":["transparent","#1EE8F0","#1E90FF","#0000FF","#6A0A6E","#FF0000"]},"legend":{"title":null,"orient":"none","legendX":826,"legendY":268}},
"stroke":{"field":"g","type":"nominal","scale":{"domain":["vehicle control","0.1 μmol/kg","1 μmol/kg","10 μmol/kg","100 μmol/kg","1,000 μmol/kg"],"range":["#333333","#1EE8F0","#1E90FF","#0000FF","#6A0A6E","#FF0000"]},"legend":{"title":null,"orient":"none","legendX":826,"legendY":268}},
"size":{"field":"g","type":"nominal","scale":{"type":"ordinal","domain":["1 μmol/kg","10 μmol/kg","100 μmol/kg","1,000 μmol/kg","vehicle control","0.1 μmol/kg"],"range":[100,100,72,56,42,49]},"legend":null}}},
{"title":"TBBPA-DBPE","width":135,"height":135,"transform":[{"filter":"datum.p === 'TBBPA-DBPE'"}],"mark":{"type":"point","filled":true,"opacity":1,"strokeWidth":1.2},
"encoding":{"x":{"field":"x","type":"quantitative","scale":{"domain":[-0.432,0.432],"nice":false,"zero":false},"axis":{"title":"PC1: 7.6%","values":[-0.4,-0.2,0,0.2,0.4],"labelExpr":"datum.value < 0 ? '-' + format(-datum.value, '.1f') : format(datum.value, '.1f')"}},
"y":{"field":"y","type":"quantitative","scale":{"domain":[-0.432,0.432],"nice":false,"zero":false},"axis":{"title":"PC2: 6.7%","values":[-0.4,-0.2,0,0.2,0.4],"labelExpr":"datum.value < 0 ? '-' + format(-datum.value, '.1f') : format(datum.value, '.1f')"}},
"shape":{"field":"g","type":"nominal","scale":{"domain":["vehicle control","0.1 μmol/kg","1 μmol/kg","10 μmol/kg","100 μmol/kg","1,000 μmol/kg"],"range":["square","square","triangle-down","triangle-up","diamond","circle"]},"legend":{"title":null,"orient":"none","legendX":826,"legendY":268}},
"fill":{"field":"g","type":"nominal","scale":{"domain":["vehicle control","0.1 μmol/kg","1 μmol/kg","10 μmol/kg","100 μmol/kg","1,000 μmol/kg"],"range":["transparent","#1EE8F0","#1E90FF","#0000FF","#6A0A6E","#FF0000"]},"legend":{"title":null,"orient":"none","legendX":826,"legendY":268}},
"stroke":{"field":"g","type":"nominal","scale":{"domain":["vehicle control","0.1 μmol/kg","1 μmol/kg","10 μmol/kg","100 μmol/kg","1,000 μmol/kg"],"range":["#333333","#1EE8F0","#1E90FF","#0000FF","#6A0A6E","#FF0000"]},"legend":{"title":null,"orient":"none","legendX":826,"legendY":268}},
"size":{"field":"g","type":"nominal","scale":{"type":"ordinal","domain":["1 μmol/kg","10 μmol/kg","100 μmol/kg","1,000 μmol/kg","vehicle control","0.1 μmol/kg"],"range":[100,100,72,56,42,49]},"legend":null}}},
{"title":"TBPH","width":135,"height":135,"transform":[{"filter":"datum.p === 'TBPH'"}],"mark":{"type":"point","filled":true,"opacity":1,"strokeWidth":1.2},
"encoding":{"x":{"field":"x","type":"quantitative","scale":{"domain":[-0.432,0.432],"nice":false,"zero":false},"axis":{"title":"PC1: 11.4%","values":[-0.4,-0.2,0,0.2,0.4],"labelExpr":"datum.value < 0 ? '-' + format(-datum.value, '.1f') : format(datum.value, '.1f')"}},
"y":{"field":"y","type":"quantitative","scale":{"domain":[-0.432,0.432],"nice":false,"zero":false},"axis":{"title":"PC2: 9.5%","values":[-0.4,-0.2,0,0.2,0.4],"labelExpr":"datum.value < 0 ? '-' + format(-datum.value, '.1f') : format(datum.value, '.1f')"}},
"shape":{"field":"g","type":"nominal","scale":{"domain":["vehicle control","0.1 μmol/kg","1 μmol/kg","10 μmol/kg","100 μmol/kg","1,000 μmol/kg"],"range":["square","square","triangle-down","triangle-up","diamond","circle"]},"legend":{"title":null,"orient":"none","legendX":826,"legendY":268}},
"fill":{"field":"g","type":"nominal","scale":{"domain":["vehicle control","0.1 μmol/kg","1 μmol/kg","10 μmol/kg","100 μmol/kg","1,000 μmol/kg"],"range":["transparent","#1EE8F0","#1E90FF","#0000FF","#6A0A6E","#FF0000"]},"legend":{"title":null,"orient":"none","legendX":826,"legendY":268}},
"stroke":{"field":"g","type":"nominal","scale":{"domain":["vehicle control","0.1 μmol/kg","1 μmol/kg","10 μmol/kg","100 μmol/kg","1,000 μmol/kg"],"range":["#333333","#1EE8F0","#1E90FF","#0000FF","#6A0A6E","#FF0000"]},"legend":{"title":null,"orient":"none","legendX":826,"legendY":268}},
"size":{"field":"g","type":"nominal","scale":{"type":"ordinal","domain":["1 μmol/kg","10 μmol/kg","100 μmol/kg","1,000 μmol/kg","vehicle control","0.1 μmol/kg"],"range":[100,100,72,56,42,49]},"legend":null}}}
],
"resolve": {"scale": {"shape": "shared", "fill": "shared", "stroke": "shared", "size": "shared"}, "legend": {"shape": "shared", "fill": "shared", "stroke": "shared"}},
"config": {
"font": "Liberation Sans",
"view": {"stroke": "black", "strokeWidth": 1},
"axis": {"grid": false, "domain": false, "ticks": true, "tickColor": "black", "tickSize": 5, "tickWidth": 1, "labelFont": "Liberation Sans", "labelFontSize": 11, "labelFontWeight": "bold", "labelColor": "black", "titleFont": "Liberation Sans", "titleFontSize": 12, "titleFontWeight": "bold", "titleColor": "black", "labelOverlap": false, "labelFlush": false},
"axisX": {"labelPadding": 7, "titlePadding": 8},
"axisY": {"labelAngle": 270, "labelAlign": "center", "labelBaseline": "bottom", "labelPadding": 4, "titlePadding": 14},
"title": {"font": "Liberation Sans", "fontSize": 15, "fontWeight": "bold", "color": "black", "offset": 15, "frame": "group", "anchor": "middle"},
"legend": {"padding": 0, "labelFont": "Liberation Sans", "labelFontSize": 14.5, "labelColor": "black", "symbolSize": 36, "symbolStrokeWidth": 1, "rowPadding": 0.4, "labelOffset": 6}
}
}
